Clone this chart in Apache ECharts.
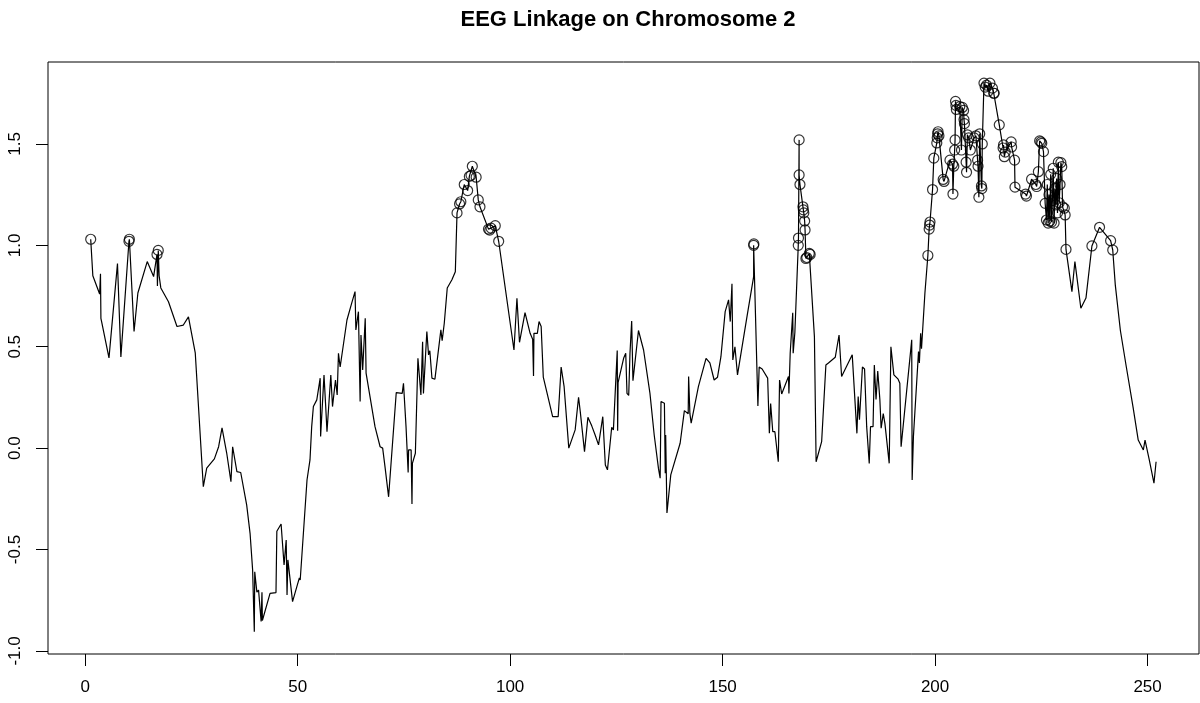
<!DOCTYPE html>
<html>
<head>
<meta charset="utf-8">
<script src="https://cdn.jsdelivr.net/npm/echarts@6/dist/echarts.min.js"></script>
<style>
html,body{margin:0;padding:0;background:#fff;}
#chart{width:1200px;height:703px;}
</style>
</head>
<body>
<div id="chart"></div>
<script>
const titleText = "EEG Linkage on Chromosome 2";
const xTicks = [0, 50, 100, 150, 200, 250];
const yTicks = [-1.0, -0.5, 0.0, 0.5, 1.0, 1.5];
const circleThreshold = 0.93;

// Marker positions (cM)
const positions = [
1.3,1.8,3.4,3.6,3.7,3.9,5.6,7.6,8.4,10.3,10.4,11.5,12.4,14.6,16.1,16.9,17.0,17.2,17.4,17.8,
19.6,21.6,23.1,24.3,25.9,27.8,28.6,30.4,31.4,32.2,33.3,34.3,34.7,35.7,36.6,38.0,38.8,39.4,39.8,39.9,
40.4,40.8,41.4,41.6,41.7,43.5,44.9,45.1,46.1,46.8,47.3,47.5,47.7,48.8,50.4,50.6,52.2,52.9,53.3,53.7,
54.5,55.3,55.4,56.2,56.6,56.9,57.3,57.8,58.2,58.5,58.9,59.3,59.6,60.0,61.6,62.7,63.5,63.7,64.3,64.7,
64.9,65.3,65.9,66.1,68.2,69.4,70.0,70.6,71.4,73.2,74.6,74.9,75.5,76.0,76.1,76.7,76.9,77.0,77.7,78.3,
79.0,79.4,79.6,80.4,80.8,81.1,81.6,82.3,83.7,84.0,84.5,85.2,86.3,87.1,87.5,88.1,88.4,89.2,90.0,90.4,
90.8,91.1,92.0,92.5,92.9,94.9,95.2,95.5,96.5,97.3,100.9,101.6,102.2,103.5,104.7,105.3,105.5,105.6,106.4,106.8,
107.3,107.8,110.0,111.3,112.0,112.7,113.8,115.3,116.1,116.5,116.9,117.5,118.3,119.2,120.0,120.4,120.8,121.8,122.4,122.9,
123.9,124.3,125.2,125.3,125.4,126.7,127.2,127.5,127.9,128.2,128.6,128.9,130.2,131.4,132.9,133.9,134.9,135.3,135.5,136.3,
136.5,136.6,136.9,137.8,140.0,141.0,141.9,142.0,142.3,142.6,144.3,146.1,147.0,148.0,148.8,149.6,150.6,151.4,151.8,152.2,
152.4,152.9,153.5,155.8,157.3,157.3,157.35,158.3,158.6,159.3,160.6,161.0,161.3,161.8,162.3,163.1,163.4,163.9,165.5,165.6,
165.9,166.5,166.6,167.0,167.8,167.85,168.0,168.0,168.2,168.9,169.0,169.1,169.3,169.4,169.6,169.8,170.4,170.6,171.6,172.0,
173.3,174.3,174.9,176.5,176.9,177.4,178.0,180.5,181.6,181.9,182.2,182.9,183.4,183.9,184.5,184.8,185.4,185.7,186.1,186.5,
187.0,187.3,187.8,188.2,189.2,189.6,190.3,191.3,191.7,192.0,194.5,194.6,194.9,196.1,196.3,196.6,196.8,197.6,198.3,198.6,
198.7,198.8,199.4,199.7,200.4,200.5,200.6,200.7,200.9,201.9,202.1,203.5,204.1,204.2,204.4,204.6,204.7,204.8,204.9,205.0,
205.8,206.2,206.4,206.7,206.8,206.9,207.3,207.4,207.6,207.9,208.3,209.2,209.6,210.0,210.1,210.3,210.5,210.9,211.0,211.1,
211.5,211.8,212.1,212.5,212.9,213.5,213.8,213.9,215.1,216.0,216.1,216.3,216.5,217.9,218.0,218.7,218.8,221.3,221.5,222.7,
223.7,223.9,224.3,224.6,224.9,225.1,225.5,225.9,226.2,226.4,226.6,226.8,227.0,227.2,227.4,227.6,227.8,228.0,228.2,228.4,
228.6,228.8,229.0,229.2,229.4,229.6,229.8,230.0,230.4,230.6,230.8,232.2,232.9,234.3,235.5,236.9,238.7,241.3,241.8,242.4,
243.6,245.0,246.6,247.8,249.0,249.4,250.4,251.5,252.0
];

// Linkage scores
const scores = [
1.03,0.85,0.76,0.86,0.64,0.62,0.445,0.91,0.45,1.02,1.03,0.575,0.765,0.92,0.846,0.955,0.80,0.975,0.85,0.79,
0.722,0.60,0.607,0.647,0.47,-0.19,-0.098,-0.053,0.007,0.10,-0.024,-0.165,0.007,-0.116,-0.12,-0.28,-0.42,-0.60,-0.905,-0.61,
-0.71,-0.70,-0.855,-0.71,-0.85,-0.716,-0.712,-0.41,-0.374,-0.576,-0.453,-0.724,-0.551,-0.757,-0.64,-0.65,-0.157,-0.058,0.106,0.205,
0.238,0.345,0.057,0.36,0.205,0.081,0.081,0.36,0.205,0.205,0.336,0.262,0.468,0.40,0.632,0.714,0.772,0.583,0.673,0.23,
0.558,0.386,0.64,0.37,0.106,0.007,0.0,-0.10,-0.24,0.274,0.27,0.32,0.106,-0.12,-0.009,-0.009,-0.275,-0.075,-0.025,0.443,
0.262,0.525,0.27,0.575,0.46,0.48,0.345,0.34,0.583,0.53,0.616,0.79,0.83,0.87,1.16,1.204,1.215,1.30,1.27,1.34,
1.345,1.39,1.336,1.224,1.19,1.08,1.075,1.085,1.097,1.02,0.484,0.739,0.522,0.668,0.566,0.537,0.356,0.566,0.566,0.624,
0.60,0.35,0.155,0.155,0.40,0.303,0.0,0.09,0.251,0.18,0.18,-0.017,0.152,0.11,0.065,0.07,0.016,0.155,-0.083,-0.107,
0.103,0.09,0.481,0.086,0.323,0.443,0.468,0.27,0.26,0.468,0.627,0.333,0.58,0.484,0.27,0.065,-0.10,-0.148,0.23,0.221,
-0.124,0.065,-0.32,-0.132,0.024,0.185,0.17,0.353,0.17,0.123,0.303,0.443,0.42,0.336,0.35,0.451,0.673,0.731,0.624,0.81,
0.435,0.50,0.361,0.657,0.846,1.0,1.007,0.208,0.40,0.39,0.345,0.073,0.22,0.081,0.081,-0.067,0.336,0.267,0.353,0.27,
0.468,0.668,0.468,0.57,1.0,1.036,1.52,1.347,1.30,1.19,1.175,1.16,1.12,1.076,0.935,0.94,0.96,0.955,0.55,-0.067,
0.032,0.41,0.42,0.448,0.45,0.558,0.353,0.46,0.073,0.254,0.14,0.40,0.39,0.106,-0.075,0.106,0.106,0.41,0.24,0.38,
0.24,0.098,0.17,0.12,-0.075,0.50,0.361,0.34,0.32,0.007,0.534,-0.157,0.057,0.476,0.42,0.566,0.49,0.764,0.95,1.08,
1.10,1.115,1.275,1.43,1.505,1.53,1.55,1.56,1.54,1.325,1.315,1.42,1.40,1.253,1.39,1.47,1.52,1.71,1.69,1.67,
1.684,1.47,1.68,1.665,1.62,1.60,1.41,1.36,1.545,1.53,1.47,1.53,1.54,1.42,1.39,1.237,1.55,1.293,1.28,1.50,
1.80,1.78,1.79,1.76,1.80,1.775,1.75,1.75,1.594,1.48,1.495,1.437,1.46,1.51,1.485,1.42,1.287,1.253,1.243,1.326,
1.30,1.29,1.363,1.515,1.51,1.503,1.462,1.207,1.125,1.30,1.11,1.25,1.12,1.35,1.115,1.22,1.38,1.11,1.28,1.20,
1.33,1.16,1.41,1.21,1.30,1.408,1.388,1.19,1.183,1.15,0.98,0.772,0.92,0.69,0.74,0.997,1.089,1.023,0.977,0.805,
0.58,0.40,0.20,0.04,-0.009,0.04,-0.058,-0.173,-0.067
];

const linePts = positions.map((p, i) => [p, scores[i]]);
const circlePts = linePts.filter(d => d[1] >= circleThreshold);

const FONT = "'Liberation Sans', Arial, Helvetica, sans-serif";
const chart = echarts.init(document.getElementById('chart'), null, {renderer: 'canvas'});
chart.setOption({
  animation: false,
  backgroundColor: '#ffffff',
  title: {
    text: titleText,
    left: 623, top: 4, textAlign: 'center',
    textStyle: {fontFamily: FONT, fontWeight: 'bold', fontSize: 22, color: '#000'}
  },
  grid: {
    left: 48, top: 62, width: 1151, height: 592,
    show: true, borderColor: '#000', borderWidth: 1, backgroundColor: 'transparent'
  },
  xAxis: {
    type: 'value', min: -8.75, max: 262.1, position: 'bottom',
    axisLine: {show: false, onZero: false},
    splitLine: {show: false},
    axisTick: {show: true, customValues: xTicks, length: 12, lineStyle: {color: '#000', width: 1}},
    axisLabel: {customValues: xTicks, fontFamily: FONT, fontSize: 17, color: '#000', margin: 25,
      formatter: v => String(v)}
  },
  yAxis: {
    type: 'value', min: -1.015, max: 1.904, position: 'left',
    axisLine: {show: false, onZero: false},
    splitLine: {show: false},
    axisTick: {show: true, customValues: yTicks, length: 12, lineStyle: {color: '#000', width: 1}},
    axisLabel: {customValues: yTicks, rotate: 90, fontFamily: FONT, fontSize: 17, color: '#000', margin: 24,
      formatter: v => v.toFixed(1)}
  },
  series: [
    {
      type: 'line', data: linePts, showSymbol: false, symbol: 'none',
      lineStyle: {color: '#000', width: 1.2}, z: 2
    },
    {
      type: 'scatter', data: circlePts, symbol: 'circle', symbolSize: 10,
      itemStyle: {color: 'rgba(0,0,0,0)', borderColor: '#000', borderWidth: 1.2}, z: 3
    }
  ]
});
</script>
</body>
</html>
